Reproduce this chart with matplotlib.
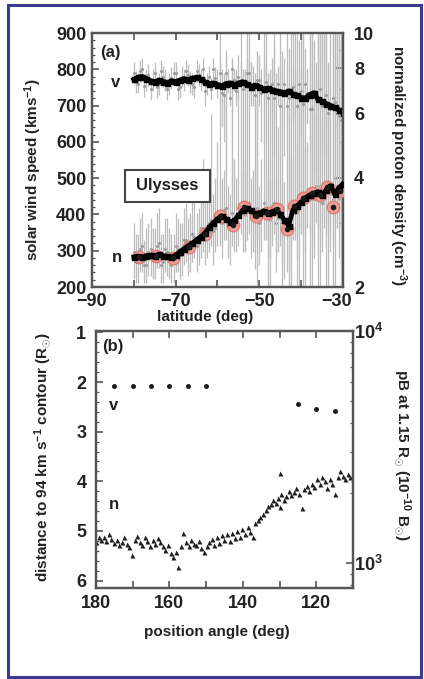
import matplotlib
matplotlib.use("Agg")
import matplotlib.pyplot as plt
from matplotlib.patches import Rectangle
from matplotlib.transforms import ScaledTranslation
from matplotlib.ticker import FixedLocator, NullFormatter, FixedFormatter, MultipleLocator, LogLocator
import numpy as np

# ---------------- panel (a): Ulysses ----------------
lat = list(range(-80, -29))
lat2 = [x + 0.5 for x in range(-80, -30)]

v_smooth = [772, 778, 780, 774, 768, 765, 770, 766, 762, 768, 766, 770, 774, 770, 775, 778,
            772, 765, 760, 762, 758, 754, 760, 762, 756, 762, 765, 760, 752, 756, 752, 745,
            748, 744, 740, 738, 735, 740, 732, 728, 722, 720, 730, 735, 718, 712, 705, 700,
            695, 688, 680]

v_raw = [790, 760, 800, 770, 745, 790, 760, 780, 745, 775, 790, 750, 770, 785, 760, 795,
         770, 740, 780, 800, 760, 735, 790, 720, 770, 780, 745, 790, 760, 730, 770, 750,
         720, 760, 740, 700, 760, 720, 750, 700, 740, 760, 690, 740, 720, 700, 730, 690,
         710, 670, 700]
v_lo = [760, 735, 770, 740, 715, 760, 730, 750, 715, 745, 760, 720, 740, 755, 730, 765,
        740, 700, 750, 760, 720, 640, 520, 700, 740, 720, 400, 740, 700, 250, 700, 600,
        200, 680, 300, 640, 560, 200, 650, 200, 620, 200, 200, 520, 200, 600, 200, 350,
        200, 400, 200]
v_hi = [820, 790, 830, 800, 775, 820, 790, 810, 775, 805, 820, 780, 800, 815, 790, 825,
        800, 780, 810, 830, 800, 800, 840, 770, 800, 840, 800, 830, 820, 790, 840, 800,
        790, 830, 790, 800, 830, 860, 810, 900, 800, 860, 900, 880, 900, 900, 900, 900,
        900, 900, 900]

v_raw2 = [765, 795, 755, 785, 770, 750, 795, 770, 760, 790,
          745, 780, 795, 765, 750, 785, 800, 760, 745, 775,
          790, 730, 765, 800, 740, 770, 755, 790, 745, 770,
          735, 765, 745, 720, 760, 735, 700, 745, 725, 760,
          705, 735, 690, 720, 745, 700, 680, 720, 690, 660]
v_lo2 = [735, 765, 725, 755, 740, 720, 765, 740, 730, 760,
         715, 750, 765, 735, 720, 755, 770, 730, 715, 745,
         760, 600, 735, 450, 700, 740, 300, 760, 700, 200,
         600, 720, 200, 560, 700, 200, 650, 200, 680, 200,
         200, 650, 200, 450, 200, 560, 200, 200, 600, 200]
v_hi2 = [795, 825, 785, 815, 800, 780, 825, 800, 790, 820,
         775, 810, 825, 795, 780, 815, 830, 790, 775, 805,
         820, 790, 800, 830, 800, 820, 800, 830, 810, 850,
         800, 820, 800, 880, 810, 850, 780, 900, 790, 880,
         900, 800, 900, 820, 900, 900, 820, 900, 900, 900]

n_smooth = [2.42, 2.43, 2.42, 2.44, 2.45, 2.44, 2.46, 2.44, 2.43, 2.42, 2.45, 2.50, 2.55,
            2.60, 2.64, 2.70, 2.75, 2.82, 2.92, 3.00, 3.08, 3.14, 3.08, 3.02, 3.05, 3.15,
            3.25, 3.30, 3.25, 3.18, 3.20, 3.24, 3.20, 3.22, 3.26, 3.18, 3.05, 2.95, 3.25,
            3.35, 3.42, 3.52, 3.58, 3.62, 3.66, 3.58, 3.70, 3.80, 3.60, 3.75, 3.85]

n_raw = [2.5, 2.35, 2.6, 2.3, 2.55, 2.4, 2.65, 2.35, 2.5, 2.3, 2.6, 2.45, 2.7, 2.5, 2.8,
         2.6, 2.9, 2.7, 3.0, 2.85, 3.2, 3.0, 3.3, 2.9, 3.1, 3.3, 3.2, 3.4, 3.1, 3.3, 3.0,
         3.4, 3.1, 3.35, 3.0, 3.3, 2.9, 3.1, 3.4, 3.2, 3.6, 3.4, 3.7, 3.5, 3.8, 3.4, 3.9,
         3.6, 4.0, 3.5, 3.9]
n_lo = [2.1, 2.05, 2.2, 2.05, 2.15, 2.1, 2.25, 2.05, 2.15, 2.05, 2.2, 2.1, 2.3, 2.15, 2.35,
        2.2, 2.4, 2.3, 2.5, 2.3, 2.6, 2.4, 2.7, 2.3, 2.5, 2.6, 2.5, 2.7, 2.4, 2.6, 2.3,
        2.7, 2.4, 2.6, 2.2, 2.6, 2.1, 2.3, 2.7, 2.4, 2.8, 2.5, 2.8, 2.4, 2.9, 2.5, 2.8,
        2.5, 2.9, 2.4, 2.8]
n_hi = [3.0, 2.8, 3.2, 2.9, 3.1, 2.9, 3.3, 2.8, 3.1, 2.8, 3.2, 3.0, 3.3, 3.1, 3.5, 3.2,
        3.8, 3.4, 4.2, 3.6, 5.0, 4.0, 9.0, 3.6, 4.5, 7.5, 4.2, 10, 4.0, 6.5, 3.8, 10, 4.3,
        8.0, 4.0, 10, 3.9, 6.0, 10, 5.0, 10, 4.8, 10, 6.0, 10, 5.5, 10, 7.0, 10, 6.0, 10]

n_raw2 = [2.35, 2.55, 2.3, 2.5, 2.4, 2.6, 2.3, 2.55, 2.4, 2.35,
          2.55, 2.45, 2.7, 2.55, 2.75, 2.65, 2.9, 2.8, 3.05, 2.9,
          3.1, 3.25, 2.95, 3.2, 3.0, 3.35, 3.15, 3.4, 3.1, 3.3,
          3.15, 3.3, 3.05, 3.4, 3.1, 3.0, 2.85, 3.2, 3.3, 3.5,
          3.4, 3.65, 3.5, 3.8, 3.55, 3.7, 3.9, 3.5, 3.8, 3.6]
n_lo2 = [2.05, 2.2, 2.05, 2.15, 2.1, 2.25, 2.05, 2.2, 2.1, 2.05,
         2.2, 2.15, 2.35, 2.2, 2.4, 2.3, 2.5, 2.4, 2.6, 2.5,
         2.6, 2.7, 2.4, 2.6, 2.5, 2.8, 2.5, 2.8, 2.5, 2.7,
         2.5, 2.7, 2.4, 2.8, 2.5, 2.3, 2.2, 2.6, 2.7, 2.9,
         2.8, 2.9, 2.6, 3.0, 2.7, 2.9, 3.0, 2.6, 2.9, 2.7]
n_hi2 = [2.8, 3.1, 2.7, 3.0, 2.9, 3.2, 2.8, 3.1, 2.9, 2.8,
         3.1, 3.0, 3.4, 3.2, 3.6, 3.3, 4.5, 3.6, 6.0, 4.0,
         10, 4.2, 3.8, 8.5, 4.0, 10, 4.5, 10, 4.2, 7.0,
         4.5, 10, 4.0, 10, 5.5, 4.0, 10, 4.6, 10, 6.5,
         10, 5.0, 10, 7.5, 10, 10, 6.0, 10, 10, 10]

avg_lat = [-78.7, -74.7, -70.6, -66.7, -63.0, -59.4, -56.3, -53.6, -50.8, -48.2, -45.8,
           -43.4, -41.7, -39.5, -37.4, -35.5, -33.9, -32.3, -30.7]
avg_n = [2.42, 2.43, 2.41, 2.58, 2.80, 3.14, 2.96, 3.31, 3.14, 3.20, 3.27, 2.88, 3.34,
         3.51, 3.63, 3.58, 3.76, 3.33, 3.68]

# ---------------- panel (b): coronal observations ----------------
pa_v = [175, 170, 165, 160, 155, 150, 125, 120, 115]
dist_v = [2.07, 2.07, 2.07, 2.07, 2.07, 2.07, 2.45, 2.54, 2.58]

pa_n = [180.0, 179.3, 178.6, 177.9, 177.2, 176.5, 175.8, 175.1, 174.4, 173.7, 173.0, 172.3,
        171.6, 170.9, 170.2, 169.5, 168.8, 168.1, 167.4, 166.7, 166.0, 165.3, 164.6, 163.9,
        163.2, 162.5, 161.8, 161.1, 160.4, 159.7, 159.0, 158.3, 157.6, 156.9, 156.2, 155.5,
        154.8, 154.1, 153.4, 152.7, 152.0, 151.3, 150.6, 149.9, 149.2, 148.5, 147.8, 147.1,
        146.4, 145.7, 145.0, 144.3, 143.6, 142.9, 142.2, 141.5, 140.8, 140.1, 139.4, 138.7,
        138.0, 137.3, 136.6, 135.9, 135.2, 134.5, 133.8, 133.1, 132.4, 131.7, 131.0, 130.3,
        130.0, 130.0, 129.6, 128.9, 128.2, 127.5, 126.8, 126.1, 125.4, 124.7, 124.0, 123.3,
        122.6, 121.9, 121.2, 120.5, 119.8, 119.1, 118.4, 117.7, 117.0, 116.3, 115.6, 114.9,
        114.2, 113.5, 112.8, 112.1, 111.4, 110.7, 110.0]
pb_n = [1230, 1300, 1260, 1290, 1240, 1330, 1270, 1220, 1250, 1190, 1230, 1300,
        1210, 1170, 1080, 1250, 1310, 1230, 1200, 1300, 1240, 1180, 1260, 1210,
        1280, 1230, 1180, 1140, 1200, 1100, 1060, 1120, 960, 1180, 1350, 1230,
        1180, 1250, 1210, 1190, 1240, 1160, 1120, 1180, 1230, 1270, 1200, 1290,
        1220, 1320, 1250, 1330, 1240, 1350, 1280, 1370, 1300, 1400, 1330, 1430,
        1360, 1300, 1480, 1530, 1580, 1620, 1700, 1760, 1800, 1860, 1810, 1900,
        2450, 1740, 1980, 1870, 1950, 2050, 1960, 2020, 2100, 1980, 1720, 2080,
        2150, 2050, 2200, 2120, 2300, 2180, 2350, 2250, 2100, 2300, 2200, 1980,
        2350, 2480, 2380, 2300, 2420, 2350, 2300]

# ---------------- style ----------------
plt.rcParams["font.family"] = ["Liberation Sans", "DejaVu Sans"]
plt.rcParams["font.weight"] = "bold"
plt.rcParams["mathtext.fontset"] = "custom"
plt.rcParams["mathtext.rm"] = "Liberation Sans:bold"
plt.rcParams["mathtext.default"] = "rm"
plt.rcParams["axes.unicode_minus"] = True

TXT = "#222222"
SPINE = "#555555"
GRAY = "#bcbcbc"
GRAYDOT = "#9a9a9a"
FS = 11
TFS = 13

W, H = 424, 679
fig = plt.figure(figsize=(W / 100, H / 100), dpi=100)
fig.patch.set_facecolor("white")


def frac(x0, y0, x1, y1):
    return [x0 / W, 1 - y1 / H, (x1 - x0) / W, (y1 - y0) / H]


def style(ax, left=True, right=True):
    for s in ax.spines.values():
        s.set_color(SPINE)
        s.set_linewidth(1.6)
    ax.tick_params(which="both", direction="in", colors=SPINE, labelcolor=TXT,
                   labelsize=TFS, top=True, bottom=True, left=left, right=right)
    ax.tick_params(which="major", length=5, width=1.2)
    ax.tick_params(which="minor", length=2.5, width=0.9)


# ---- panel (a) ----
ax_v = fig.add_axes(frac(92, 33, 343, 287))
ax_n = ax_v.twinx()          # right axis carrying the gray density data
ax_nt = ax_v.twinx()         # overlay for the averaged density curve
ax_v.set_zorder(2)
ax_n.set_zorder(1)
ax_nt.set_zorder(3)
ax_v.patch.set_visible(False)
ax_nt.patch.set_visible(False)
ax_n.patch.set_facecolor("#fcfcfc")

ax_v.set_xlim(-90, -30)
ax_v.set_ylim(200, 900)
for a in (ax_n, ax_nt):
    a.set_yscale("log")
    a.set_ylim(2, 10)

# gray raw data with error bars
ax_n.vlines(lat, n_lo, n_hi, color=GRAY, lw=0.9)
ax_n.vlines(lat2, n_lo2, n_hi2, color=GRAY, lw=0.9)
ax_n.plot(lat, n_raw, "o", ms=2.2, color=GRAYDOT, mec="none")
ax_n.plot(lat2, n_raw2, "o", ms=2.2, color=GRAYDOT, mec="none")
ax_v.vlines(lat, v_lo, v_hi, color=GRAY, lw=0.9)
ax_v.vlines(lat2, v_lo2, v_hi2, color=GRAY, lw=0.9)
ax_v.plot(lat, v_raw, "o", ms=2.2, color=GRAYDOT, mec="none")
ax_v.plot(lat2, v_raw2, "o", ms=2.2, color=GRAYDOT, mec="none")

# smoothed speed
ax_v.plot(lat, v_smooth, "-", color="black", lw=3.6, solid_joinstyle="round")
ax_v.plot(lat, v_smooth, "s", color="black", ms=3.6)

# smoothed density with averaged points
ax_nt.plot(avg_lat, avg_n, "o", ms=9, mfc="#ee9a92", mec="#e2756c", mew=1.0, alpha=0.9)
ax_nt.plot(lat, n_smooth, "-", color="black", lw=3.4, solid_joinstyle="round")
ax_nt.plot(lat, n_smooth, "s", color="black", ms=3.6)
ax_nt.plot(avg_lat, avg_n, "o", ms=3, color="#1a1a1a")

style(ax_v, left=True, right=False)
ax_v.xaxis.set_major_locator(FixedLocator([-90, -80, -70, -60, -50, -40, -30]))
ax_v.xaxis.set_major_formatter(FixedFormatter(["\u221290", "", "\u221270", "", "\u221250", "", "\u221230"]))
ax_v.yaxis.set_major_locator(MultipleLocator(100))
ax_v.yaxis.set_minor_locator(MultipleLocator(20))
ax_v.tick_params(axis="y", pad=4)
ax_v.tick_params(axis="x", pad=4)

# the last latitude label sits a little left of its tick, clear of the right axis
last_tick = ax_v.xaxis.get_major_ticks()[-1]
last_tick.label1.set_transform(last_tick.label1.get_transform()
                               + ScaledTranslation(-6 / 100, 0, fig.dpi_scale_trans))

style(ax_n, left=False, right=True)
ax_n.yaxis.set_major_locator(FixedLocator([2, 4, 6, 8, 10]))
ax_n.yaxis.set_major_formatter(FixedFormatter(["2", "4", "6", "8", "10"]))
ax_n.yaxis.set_minor_locator(FixedLocator([3, 5, 7, 9]))
ax_n.yaxis.set_minor_formatter(NullFormatter())
ax_n.tick_params(axis="y", pad=8)
ax_nt.axis("off")

ax_v.text(0.072, 0.925, "(a)", transform=ax_v.transAxes, fontsize=TFS - 1, color=TXT,
          ha="center", va="center")
ax_v.text(0.092, 0.805, "v", transform=ax_v.transAxes, fontsize=TFS - 1, color=TXT,
          ha="center", va="center")
ax_v.text(0.10, 0.118, "n", transform=ax_v.transAxes, fontsize=TFS - 1, color=TXT,
          ha="center", va="center")
ax_nt.add_patch(Rectangle((0.131, 0.335), 0.339, 0.126, transform=ax_v.transAxes,
                          fc="white", ec="#444444", lw=1.5, zorder=5))
ax_nt.text(0.30, 0.398, "Ulysses", transform=ax_v.transAxes, fontsize=TFS - 1,
           color=TXT, ha="center", va="center", zorder=6)

fig.text(33 / W, 1 - 170 / H, "solar wind speed (kms$^{\u22121}$)", rotation=90,
         ha="center", va="center", fontsize=FS, color=TXT)
fig.text(398 / W, 1 - 166 / H, "normalized proton density (cm$^{\u22123}$)", rotation=270,
         ha="center", va="center", fontsize=FS, color=TXT)
fig.text(205 / W, 1 - 317 / H, "latitude (deg)", ha="center", va="center",
         fontsize=FS, color=TXT)

# ---- panel (b) ----
ax_d = fig.add_axes(frac(96, 331, 353, 588))
ax_p = ax_d.twinx()
ax_d.set_zorder(2)
ax_p.set_zorder(1)
ax_d.patch.set_visible(False)
ax_p.patch.set_facecolor("#fcfcfc")

ax_d.set_xlim(180, 110)
ax_d.set_ylim(6.15, 0.97)
ax_p.set_yscale("log")
ax_p.set_ylim(780, 10000)

ax_d.plot(pa_v, dist_v, "o", ms=3.6, color="#1e1e1e", mec="none")
ax_p.plot(pa_n, pb_n, "^", ms=3.6, color="#1e1e1e", mec="none")

style(ax_d, left=True, right=False)
ax_d.xaxis.set_major_locator(FixedLocator([180, 170, 160, 150, 140, 130, 120, 110]))
ax_d.xaxis.set_major_formatter(FixedFormatter(["180", "", "160", "", "140", "", "120", ""]))
ax_d.yaxis.set_major_locator(MultipleLocator(1))
ax_d.yaxis.set_minor_locator(MultipleLocator(0.2))
ax_d.tick_params(axis="y", pad=7)
ax_d.tick_params(axis="x", pad=5)

style(ax_p, left=False, right=True)
ax_p.yaxis.set_major_locator(FixedLocator([1000, 10000]))
ax_p.yaxis.set_major_formatter(FixedFormatter(["10$^{3}$", "10$^{4}$"]))
ax_p.yaxis.set_minor_locator(LogLocator(base=10, subs=np.arange(2, 10)))
ax_p.yaxis.set_minor_formatter(NullFormatter())
ax_p.tick_params(axis="y", pad=1)

ax_d.text(0.066, 0.938, "(b)", transform=ax_d.transAxes, fontsize=TFS - 1, color=TXT,
          ha="center", va="center")
ax_d.text(0.07, 0.712, "v", transform=ax_d.transAxes, fontsize=TFS - 1, color=TXT,
          ha="center", va="center")
ax_d.text(0.07, 0.323, "n", transform=ax_d.transAxes, fontsize=TFS - 1, color=TXT,
          ha="center", va="center")

fig.text(43 / W, 1 - 457 / H, "distance to 94 km s$^{\u22121}$ contour (R$_{\\odot}$)",
         rotation=90, ha="center", va="center", fontsize=FS, color=TXT)
fig.text(402 / W, 1 - 455 / H, "pB at 1.15 R$_{\\odot}$ (10$^{\u221210}$ B$_{\\odot}$)",
         rotation=270, ha="center", va="center", fontsize=FS, color=TXT)
fig.text(217 / W, 1 - 632 / H, "position angle (deg)", ha="center", va="center",
         fontsize=FS, color=TXT)

# frame around the figure
fig.add_artist(Rectangle((8 / W, 2 / H), 413 / W, 672 / H, transform=fig.transFigure,
                         fill=False, ec="#3a3a8e", lw=2.2))

fig.savefig("out.png", dpi=100)
